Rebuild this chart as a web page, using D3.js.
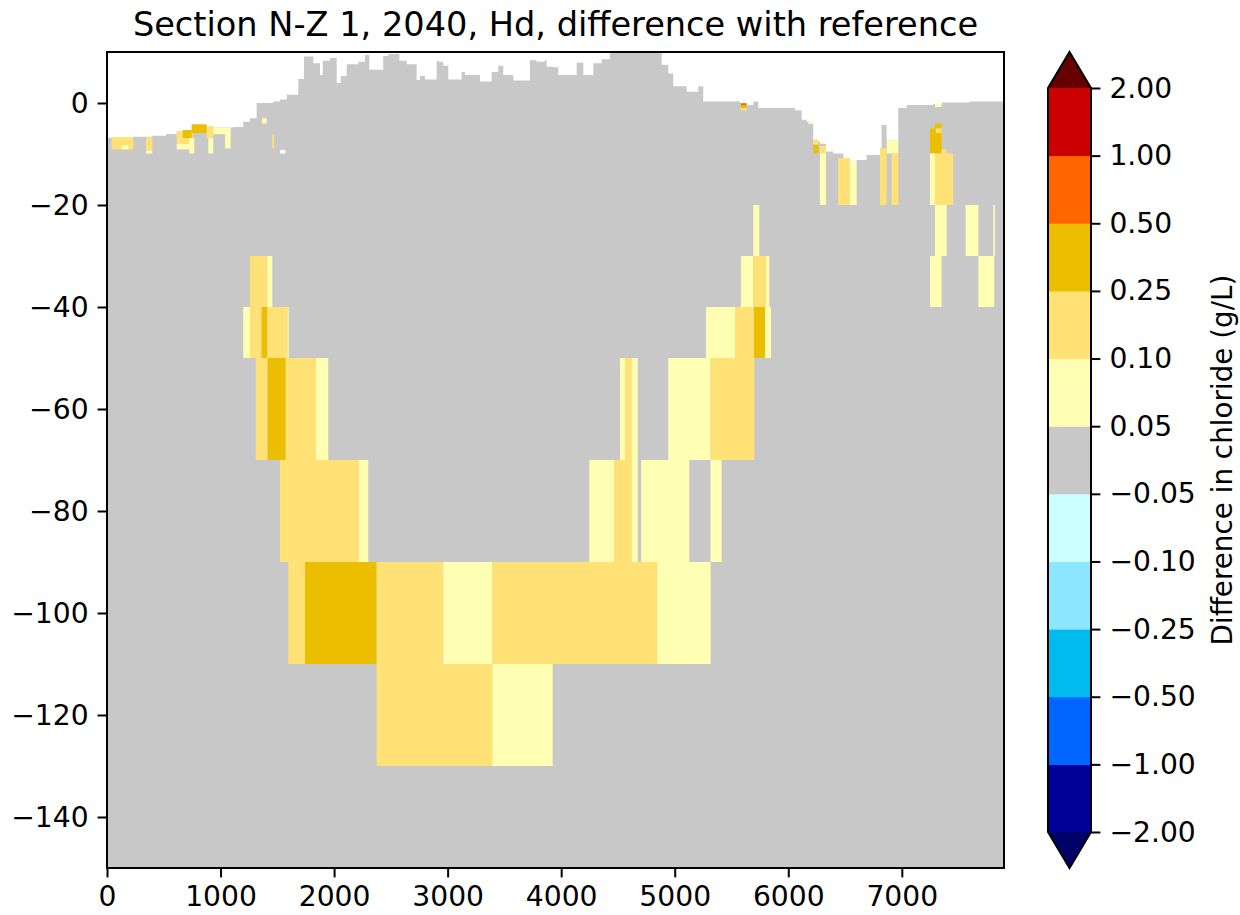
<!DOCTYPE html>
<html>
<head>
<meta charset="utf-8">
<script src="https://cdn.jsdelivr.net/npm/d3@7"></script>
<style>
  body { margin: 0; background: #fff; }
  text { font-family: "DejaVu Sans", sans-serif; fill: #000; }
</style>
</head>
<body>
<svg id="chart" width="1240" height="915"></svg>
<script>
// Contour levels of the chloride difference (g/L) and their fill colours
const levels = [-2, -1, -0.5, -0.25, -0.1, -0.05, 0.05, 0.1, 0.25, 0.5, 1, 2];
const levelColors = ["#000099", "#0066ff", "#00bbee", "#8ce6ff", "#ccffff", "#c8c8c8",
                     "#ffffb3", "#ffe175", "#ecbe00", "#ff6600", "#cc0000"];
const underColor = "#000066";
const overColor = "#660000";

// Axis ticks
const xTicks = [0, 1000, 2000, 3000, 4000, 5000, 6000, 7000];
const zTicks = [0, -20, -40, -60, -80, -100, -120, -140];

// Model top along the section: left edge of each column (m) and its top (m)
const surfaceX = [0, 230, 400, 520, 614, 667, 746, 878, 936, 1112, 1200, 1259, 1318, 1465, 1524, 1583,
  1685, 1735, 1817, 1876, 1900, 1964, 2023, 2058, 2111, 2214, 2272, 2310, 2433, 2478, 2575, 2639,
  2727, 2756, 2800, 2903, 2918, 2962, 3006, 3123, 3152, 3285, 3388, 3446, 3490, 3578, 3725, 3784,
  3857, 3872, 3931, 3975, 4136, 4195, 4283, 4357, 4430, 4885, 4943, 4987, 5105, 5208, 5251, 5575,
  5633, 5692, 5736, 6059, 6118, 6162, 6220, 6264, 6279, 6332, 6396, 6485, 6543, 6602, 6690, 6808,
  6822, 6866, 6969, 7043, 7277, 7351, 7600, 7900];
const surfaceTop = [-6.8, -6.6, -6.4, -6.1, -5.6, -5.3, -4.2, -4.6, -4.8, -4.7, -3.7, -3.0, 0.0, 0.3, 0.7, 1.6,
  4.7, 9.1, 7.8, 5.5, 8.3, 8.8, 3.9, 5.3, 7.6, 8.1, 9.4, 6.5, 9.2, 9.6, 8.3, 7.6,
  4.5, 5.3, 4.6, 8.3, 8.1, 7.3, 4.6, 6.1, 5.5, 4.2, 6.1, 7.3, 5.5, 4.4, 8.4, 8.1,
  8.4, 7.1, 7.0, 5.5, 7.9, 5.5, 7.8, 8.6, 10, 7.5, 5.8, 3.3, 2.2, 3.3, 0.3, 0.0,
  -0.4, 0.3, -1.0, -1.4, -3.3, -3.7, -7.2, -7.6, -8.0, -9.5, -9.9, -10.8, -11.5, -11.2, -10.2, -8.9,
  -4.3, -7.3, -1.0, -0.4, -0.2, 0.1, 0.3, 0.3];
const bottomZ = -150;

// Cells where the difference leaves the neutral band: [x0, x1, zTop, zBottom, difference g/L]
const cells = [
  // shallow cells, western part
  [41, 232, -6.7, -9.1, 0.17], [129, 188, -8.3, -9.1, 0.07],
  [343, 399, -6.7, -9.3, 0.17], [343, 399, -9.3, -9.9, 0.07],
  [614, 755, -5.6, -8.0, 0.17], [614, 725, -8.0, -9.1, 0.07],
  [667, 746, -5.3, -6.9, 0.35], [746, 878, -4.2, -5.9, 0.35],
  [725, 769, -6.9, -9.9, 0.07], [878, 936, -4.6, -6.9, 0.17],
  [892, 936, -6.9, -9.9, 0.07], [936, 1039, -4.8, -6.1, 0.07],
  [1039, 1089, -4.8, -8.9, 0.07], [1365, 1406, -3.0, -4.0, 0.07],
  [1456, 1471, -6.1, -8.9, 0.17], [1524, 1571, -9.2, -9.9, NaN],
  // deep plume, western flank
  [1259, 1412, -30, -40, 0.17], [1412, 1456, -30, -40, 0.07],
  [1200, 1259, -40, -50, 0.07], [1259, 1362, -40, -50, 0.17], [1362, 1412, -40, -50, 0.35],
  [1412, 1590, -40, -50, 0.17], [1590, 1600, -40, -50, 0.07],
  [1310, 1415, -50, -70, 0.17], [1415, 1574, -50, -70, 0.35], [1574, 1841, -50, -70, 0.17],
  [1841, 1949, -50, -70, 0.07],
  [1524, 2219, -70, -90, 0.17], [2219, 2301, -70, -90, 0.07],
  // deep layers
  [1597, 1744, -90, -110, 0.17], [1744, 2375, -90, -110, 0.35], [2375, 2962, -90, -110, 0.17],
  [2962, 3394, -90, -110, 0.07], [3394, 4847, -90, -110, 0.17], [4847, 5316, -90, -110, 0.07],
  [2375, 3394, -110, -130, 0.17], [3394, 3925, -110, -130, 0.07],
  // deep plume, eastern flank
  [4248, 4466, -70, -90, 0.07], [4466, 4621, -70, -90, 0.17], [4621, 4674, -70, -90, 0.07],
  [4705, 5128, -70, -90, 0.07], [5316, 5413, -70, -90, 0.07],
  [4518, 4562, -50, -70, 0.07], [4562, 4621, -50, -70, 0.17], [4621, 4674, -50, -70, 0.07],
  [4943, 5316, -50, -70, 0.07], [5316, 5701, -50, -70, 0.17],
  [5275, 5531, -40, -50, 0.07], [5531, 5698, -40, -50, 0.17], [5698, 5795, -40, -50, 0.35],
  [5795, 5848, -40, -50, 0.07],
  [5583, 5692, -30, -40, 0.07], [5692, 5804, -30, -40, 0.17], [5804, 5833, -30, -40, 0.07],
  [5692, 5745, -20, -30, 0.07],
  // shallow cells, eastern part
  [5583, 5633, -0.06, -0.5, 0.7], [5583, 5633, -0.5, -1.0, 0.35], [5583, 5633, -1.0, -1.5, 0.17],
  [6176, 6220, -3.7, -4.1, 0.07],
  [6220, 6264, -7.2, -8.2, 0.17], [6220, 6264, -8.2, -9.9, 0.35],
  [6279, 6332, -8.4, -9.9, 0.17], [6279, 6332, -9.9, -20, 0.07],
  [6440, 6543, -10.8, -20, 0.17], [6543, 6602, -11.5, -20, 0.07],
  [6808, 6866, -8.9, -20, 0.17],
  [6866, 6969, -7.3, -9.9, 0.07], [6910, 6969, -9.9, -20, 0.17],
  [7292, 7351, -0.06, -0.8, 0.07],
  [7248, 7351, -5.0, -9.9, 0.35], [7292, 7351, -4.0, -5.0, 0.35], [7300, 7351, -5.0, -5.9, 0.17],
  [7248, 7292, -9.9, -20, 0.07], [7292, 7453, -9.9, -20, 0.17], [7351, 7395, -9.1, -9.9, 0.17],
  [7292, 7395, -20, -30, 0.07], [7562, 7674, -20, -30, 0.07], [7806, 7820, -20, -30, 0.07],
  [7248, 7351, -30, -40, 0.07], [7674, 7814, -30, -40, 0.07]
];

const svg = d3.select("#chart");
const plot = { left: 107, top: 52, right: 1004, bottom: 868 };
const labelSize = "28.2px";

const x = d3.scaleLinear().domain([0, 7900]).range([plot.left, plot.right]);
const y = d3.scaleLinear().domain([bottomZ, 10]).range([plot.bottom, plot.top]);

const color = d3.scaleThreshold()
  .domain(levels)
  .range([underColor, ...levelColors, overColor]);
const fillFor = v => (Number.isNaN(v) ? "#ffffff" : color(v));

svg.append("defs").append("clipPath").attr("id", "plot-clip")
  .append("rect")
  .attr("x", plot.left).attr("y", plot.top)
  .attr("width", plot.right - plot.left).attr("height", plot.bottom - plot.top);

const field = svg.append("g").attr("clip-path", "url(#plot-clip)");

// neutral field below the model top
const columns = surfaceX.map((sx, i) => ({ x: sx, top: surfaceTop[i] }));
field.append("path")
  .datum(columns)
  .attr("fill", color(0))
  .attr("d", d3.area()
    .x(d => x(d.x))
    .y0(y(bottomZ))
    .y1(d => y(d.top))
    .curve(d3.curveStepAfter));

// cells with a change in chloride
field.selectAll("rect.cell")
  .data(cells)
  .join("rect")
  .attr("class", "cell")
  .attr("x", d => x(d[0]))
  .attr("width", d => x(d[1]) - x(d[0]))
  .attr("y", d => y(d[2]))
  .attr("height", d => y(d[3]) - y(d[2]))
  .attr("fill", d => fillFor(d[4]));

// axes
const tickLen = 9.4;
const xAxis = svg.append("g")
  .attr("transform", `translate(0,${plot.bottom})`)
  .call(d3.axisBottom(x).tickValues(xTicks).tickSize(tickLen).tickPadding(9).tickFormat(d3.format("d")));
const yAxis = svg.append("g")
  .attr("transform", `translate(${plot.left},0)`)
  .call(d3.axisLeft(y).tickValues(zTicks).tickSize(tickLen).tickPadding(9));
[xAxis, yAxis].forEach(g => {
  g.select(".domain").remove();
  g.selectAll(".tick line").attr("stroke", "#000").attr("stroke-width", 2);
  g.selectAll(".tick text").style("font-size", labelSize).attr("fill", "#000");
});

svg.append("rect")
  .attr("x", plot.left).attr("y", plot.top)
  .attr("width", plot.right - plot.left).attr("height", plot.bottom - plot.top)
  .attr("fill", "none").attr("stroke", "#000").attr("stroke-width", 2);

// title
svg.append("text")
  .attr("x", (plot.left + plot.right) / 2).attr("y", 36)
  .attr("text-anchor", "middle")
  .style("font-size", "33.6px")
  .text("Section N-Z 1, 2040, Hd, difference with reference");

// colour bar
const cb = { left: 1048, right: 1091, top: 88, bottom: 832, tip: 36 };
const cbScale = d3.scaleLinear().domain([0, levels.length - 1]).range([cb.bottom, cb.top]);
const cbMid = (cb.left + cb.right) / 2;
const cbG = svg.append("g");

cbG.selectAll("rect.band")
  .data(levelColors)
  .join("rect")
  .attr("class", "band")
  .attr("x", cb.left).attr("width", cb.right - cb.left)
  .attr("y", (c, i) => cbScale(i + 1))
  .attr("height", (c, i) => cbScale(i) - cbScale(i + 1) + 0.5)
  .attr("fill", c => c);

cbG.append("path")
  .attr("fill", overColor)
  .attr("d", `M${cb.left},${cb.top}L${cbMid},${cb.top - cb.tip}L${cb.right},${cb.top}Z`);
cbG.append("path")
  .attr("fill", underColor)
  .attr("d", `M${cb.left},${cb.bottom}L${cbMid},${cb.bottom + cb.tip}L${cb.right},${cb.bottom}Z`);

cbG.append("path")
  .attr("fill", "none").attr("stroke", "#000").attr("stroke-width", 2).attr("stroke-linejoin", "miter")
  .attr("d", `M${cb.left},${cb.top}L${cbMid},${cb.top - cb.tip}L${cb.right},${cb.top}` +
             `L${cb.right},${cb.bottom}L${cbMid},${cb.bottom + cb.tip}L${cb.left},${cb.bottom}Z`);

const fmt = d3.format(".2f");
const cbAxis = svg.append("g")
  .attr("transform", `translate(${cb.right},0)`)
  .call(d3.axisRight(cbScale).tickValues(d3.range(levels.length)).tickSize(tickLen).tickPadding(9)
    .tickFormat(i => fmt(levels[i])));
cbAxis.select(".domain").remove();
cbAxis.selectAll(".tick line").attr("stroke", "#000").attr("stroke-width", 2);
cbAxis.selectAll(".tick text").style("font-size", labelSize).attr("fill", "#000");

svg.append("text")
  .attr("transform", `translate(1232,${(cb.top + cb.bottom) / 2}) rotate(-90)`)
  .attr("text-anchor", "middle")
  .style("font-size", "27.8px")
  .text("Difference in chloride (g/L)");
</script>
</body>
</html>
